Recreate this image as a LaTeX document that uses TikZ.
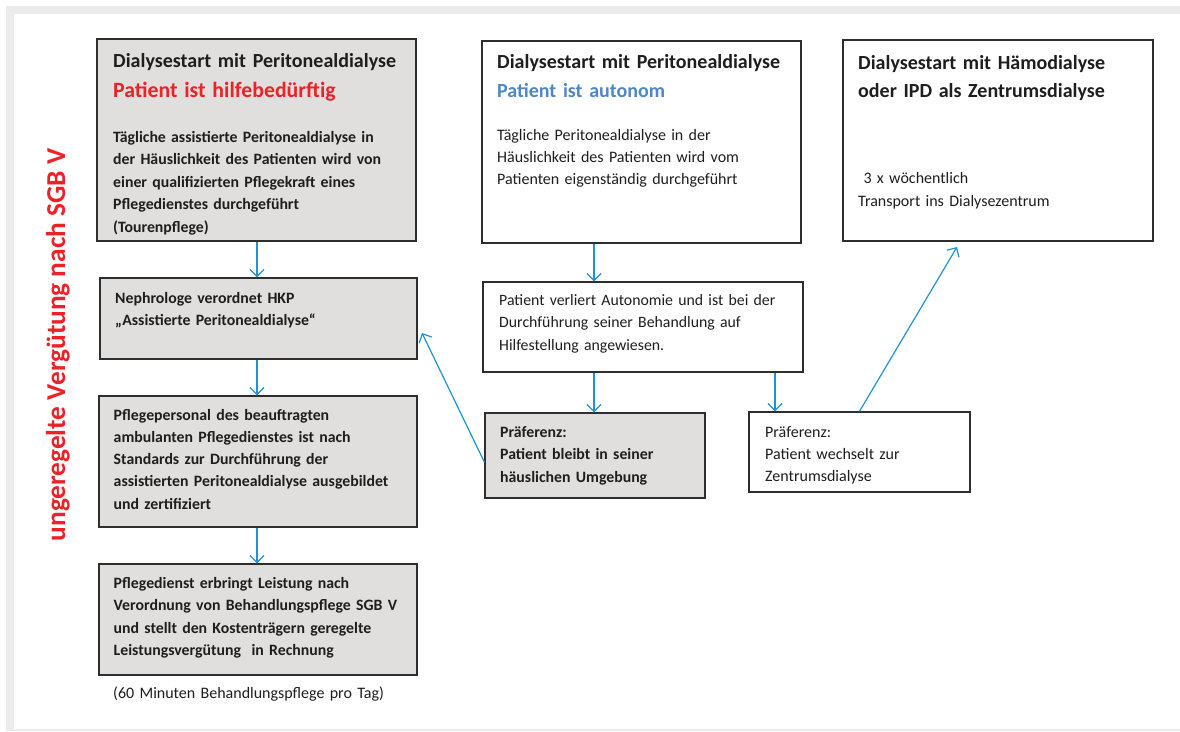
\documentclass[tikz,border=0pt]{standalone}
\usepackage{fontspec}
\setmainfont{Carlito}
\usetikzlibrary{arrows.meta}
\definecolor{boxgray}{HTML}{E0DFDE}
\definecolor{framegray}{HTML}{EBEBEC}
\definecolor{arrblue}{HTML}{1C94D6}
\definecolor{tred}{HTML}{EC2227}
\definecolor{tblue}{HTML}{4F86C6}
\definecolor{edgecol}{HTML}{2E2E2E}
\definecolor{textcol}{HTML}{1E1E1E}
\tikzset{
  box/.style={draw=edgecol,line width=1.4pt,inner sep=0pt},
  graybox/.style={box,fill=boxgray},
  whitebox/.style={box,fill=white},
  arr/.style={draw=arrblue,line width=1.2pt,-{Straight Barb[length=7pt,width=14pt,line width=1.2pt]}},
  txt/.style 2 args={anchor=north west,inner sep=0pt,text width=345pt,align=left,
    text=textcol,font=\fontsize{#1}{#2}\selectfont,yshift={0.7*#2pt}},
}
\begin{document}
\begin{tikzpicture}[x=1pt,y=-1pt]
\fill[white] (0,0) rectangle (1180,731);
\useasboundingbox (0,0) rectangle (1180,731);
% frame strips
\fill[framegray] (6,6) rectangle (1180,14);
\fill[framegray] (6,6) rectangle (14,731);
\fill[framegray] (6,729) rectangle (1180,731);

% boxes
\node[graybox,minimum width=319pt,minimum height=202pt] (b1) at (256.5,140) {};
\node[graybox,minimum width=317pt,minimum height=81pt] (b2) at (258.5,318.5) {};
\node[graybox,minimum width=318pt,minimum height=131pt] (b3) at (258,461.5) {};
\node[graybox,minimum width=318pt,minimum height=111pt] (b4) at (258,619.5) {};
\node[whitebox,minimum width=319pt,minimum height=202pt] (b5) at (641.5,142) {};
\node[whitebox,minimum width=310pt,minimum height=201pt] (b6) at (998,140.5) {};
\node[whitebox,minimum width=320pt,minimum height=90pt] (b7) at (643,327) {};
\node[graybox,minimum width=220pt,minimum height=85pt] (b8) at (595,455.5) {};
\node[whitebox,minimum width=221pt,minimum height=80pt] (b9) at (859.5,452) {};

% texts box 1
\node[txt={20}{30}] (t1a) at (113,67) {\strut\bfseries Dialysestart mit Peritonealdialyse\\
  {\fontsize{21.8}{30}\selectfont\textcolor{tred}{Patient ist hilfebedürftig}}};
\node[txt={15.8}{22.5}] (t1b) at (113,142) {\strut\bfseries Tägliche assistierte Peritonealdialyse in\\
  der Häuslichkeit des Patienten wird von\\
  einer qualifizierten Pflegekraft eines\\
  Pflegedienstes durchgeführt\\
  (Tourenpflege)};
% box 2
\node[txt={15.8}{22.5}] (t2) at (115,303) {\strut\bfseries Nephrologe verordnet HKP\\
  „Assistierte Peritonealdialyse“};
% box 3
\node[txt={15.8}{22.2}] (t3) at (113.5,420) {\strut\bfseries Pflegepersonal des beauftragten\\
  ambulanten Pflegedienstes ist nach\\
  Standards zur Durchführung der\\
  assistierten Peritonealdialyse ausgebildet\\
  und zertifiziert};
% box 4
\node[txt={15.8}{22.4}] (t4) at (113.5,588) {\strut\bfseries Pflegedienst erbringt Leistung nach\\
  Verordnung von Behandlungspflege SGB V\\
  und stellt den Kostenträgern geregelte\\
  Leistungsvergütung\ \ in Rechnung};
\node[txt={16}{20}] (t4n) at (113,698) {\strut(60 Minuten Behandlungspflege pro Tag)};

% box 5
\node[txt={20}{29}] (t5a) at (497,68) {\strut\bfseries Dialysestart mit Peritonealdialyse\\
  \textcolor{tblue}{Patient ist autonom}};
\node[txt={16}{22}] (t5b) at (497,140) {\strut Tägliche Peritonealdialyse in der\\
  Häuslichkeit des Patienten wird vom\\
  Patienten eigenständig durchgeführt};

% box 6
\node[txt={20}{28.5}] (t6a) at (858,69) {\strut\bfseries Dialysestart mit Hämodialyse\\
  oder IPD als Zentrumsdialyse};
\node[txt={16}{23}] (t6b) at (858,183) {\strut\ 3 x wöchentlich\\
  Transport ins Dialysezentrum};

% box 7
\node[txt={15.8}{22.5}] (t7) at (499,305) {\strut Patient verliert Autonomie und ist bei der\\
  Durchführung seiner Behandlung auf\\
  Hilfestellung angewiesen.};
% box 8
\node[txt={15.8}{22.5}] (t8) at (500,437) {\strut\bfseries Präferenz:\\
  Patient bleibt in seiner\\
  häuslichen Umgebung};
% box 9
\node[txt={16}{22}] (t9) at (765,437) {\strut Präferenz:\\
  Patient wechselt zur\\
  Zentrumsdialyse};

% vertical label
\node[rotate=90,anchor=base,inner sep=0pt,text=tred,font=\fontsize{27.3}{32}\selectfont\bfseries] (side) at (65,345) {ungeregelte Vergütung nach SGB V};

% helper coordinates
\coordinate (xa) at (257,0);
\coordinate (xb) at (594,0);
\coordinate (xc) at (775,0);
\coordinate (e7) at (422,333);
\coordinate (e8) at (957,247);

% arrows
\draw[arr] (b1.south -| xa) -- (b2.north -| xa);
\draw[arr] (b2.south -| xa) -- (b3.north -| xa);
\draw[arr] (b3.south -| xa) -- (b4.north -| xa);
\draw[arr] (b5.south -| xb) -- (b7.north -| xb);
\draw[arr] (b7.south -| xb) -- (b8.north -| xb);
\draw[arr] (b7.south -| xc) -- (b9.north -| xc);
\draw[arr] ([yshift=-6.5pt]b8.west) -- (e7);
\draw[arr] (b9.north) -- (e8);
\end{tikzpicture}
\end{document}
